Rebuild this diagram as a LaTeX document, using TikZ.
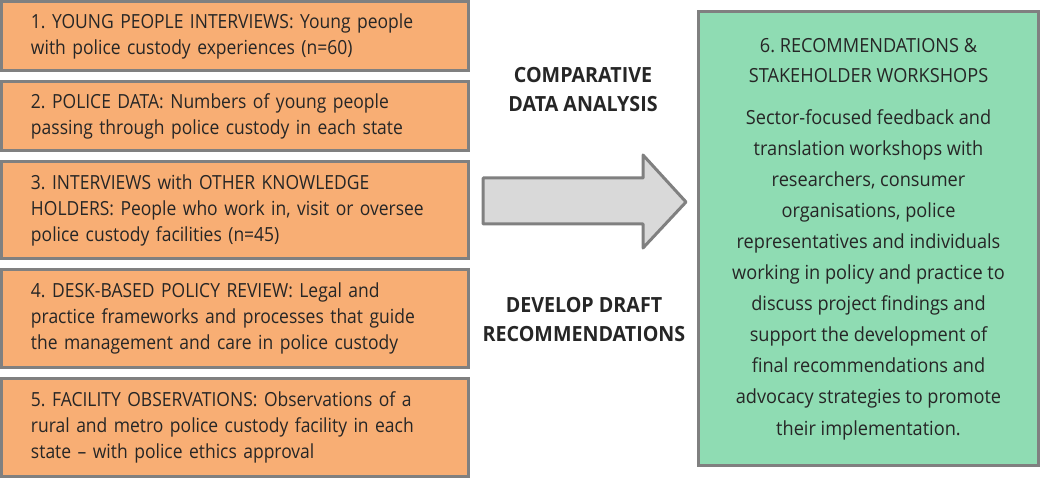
\documentclass[tikz,border=0pt]{standalone}
\usepackage{fontspec}
\setmainfont{Open Sans}[FakeStretch=0.9]
\newfontfamily\greenfont{Open Sans}[FakeStretch=0.935]
\newfontfamily\lblfont{Open Sans}[FakeStretch=0.94]
\frenchspacing
\begin{document}
\begin{tikzpicture}[x=1bp,y=-1bp,
  txt/.style={text=black!85},
  srcbox/.style={draw=black!50, line width=3bp, fill=orangefill, rectangle, minimum width=467bp,
     inner xsep=29.5bp, inner ysep=0bp, text width=408bp, align=left, txt,
     font=\fontsize{19.5}{25.8}\selectfont},
  recbox/.style={draw=black!50, line width=3bp, fill=greenfill, rectangle, minimum width=340bp,
     minimum height=454bp, inner sep=0bp, text width=320bp, align=center, txt},
  lbl/.style={align=center, txt, font=\lblfont\fontsize{21}{30}\selectfont\bfseries}
]
\definecolor{orangefill}{RGB}{248,174,116}
\definecolor{greenfill}{RGB}{143,220,179}
\definecolor{arrowfill}{RGB}{217,217,217}
\useasboundingbox (0,0) rectangle (1041,478);

\node[srcbox, minimum height=69bp] (b1) at (235,36.5) {1. YOUNG PEOPLE INTERVIEWS: Young people\\with police custody experiences (n=60)};
\node[srcbox, minimum height=69bp] (b2) at (235,116.5) {2. POLICE DATA: Numbers of young people\\passing through police custody in each state};
\node[srcbox, minimum height=97bp] (b3) at (235,210.5) {3. INTERVIEWS with OTHER KNOWLEDGE\\HOLDERS: People who work in, visit or oversee\\police custody facilities (n=45)};
\node[srcbox, minimum height=97bp] (b4) at (235,318.5) {4. DESK-BASED POLICY REVIEW: Legal and\\practice frameworks and processes that guide\\the management and care in police custody};
\node[srcbox, minimum height=97bp] (b5) at (235,427.5) {5. FACILITY OBSERVATIONS: Observations of a\\rural and metro police custody facility in each\\state -- with police ethics approval};

\node[recbox] (b6) at (868.5,238.5) {};
\node[txt, align=center, font=\greenfont\fontsize{19.5}{30}\selectfont, anchor=center] (t6) at (868.5,60.5)
  {6. RECOMMENDATIONS \&\\STAKEHOLDER WORKSHOPS};
\node[txt, align=center, font=\greenfont\fontsize{19.5}{31.2}\selectfont, anchor=center] (d6) at (868.5,274.5)
  {Sector-focused feedback and\\translation workshops with\\researchers, consumer\\organisations, police\\representatives and individuals\\working in policy and practice to\\discuss project findings and\\support the development of\\final recommendations and\\advocacy strategies to promote\\their implementation.};

\draw[draw=black!50, fill=arrowfill, line width=3bp, line join=round]
  (483,178) -- (643,178) -- (643,155) -- (686,202) -- (643,248) -- (643,224) -- (483,224) -- cycle;

\node[lbl] (l1) at (583,89.5) {COMPARATIVE\\DATA ANALYSIS};
\node[lbl] (l2) at (584,319.5) {DEVELOP DRAFT\\RECOMMENDATIONS};
\end{tikzpicture}
\end{document}
